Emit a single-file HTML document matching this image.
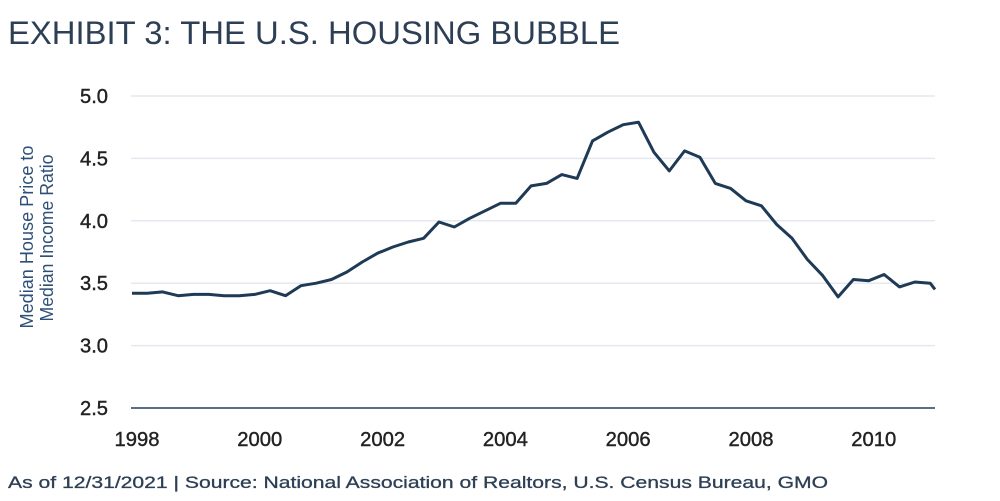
<!DOCTYPE html>
<html><head><meta charset="utf-8"><style>
html,body{margin:0;padding:0;background:#fff;}
svg{display:block;font-family:"Liberation Sans",sans-serif;}
</style></head><body>
<svg id="chart" width="1000" height="501" viewBox="0 0 1000 501" xmlns="http://www.w3.org/2000/svg">
<text x="8" y="44" font-size="32" fill="#2d3f55" textLength="612" lengthAdjust="spacingAndGlyphs">EXHIBIT 3: THE U.S. HOUSING BUBBLE</text>
<g id="grid"></g>
<g id="yticks"></g>
<g id="xticks"></g>
<g fill="#2e5078" font-size="18">
<text x="33" y="237" text-anchor="middle" transform="rotate(-90 33 237)" textLength="183" lengthAdjust="spacingAndGlyphs">Median House Price to</text>
<text x="53" y="238" text-anchor="middle" transform="rotate(-90 53 238)" textLength="167" lengthAdjust="spacingAndGlyphs">Median Income Ratio</text>
</g>
<line x1="131" y1="408" x2="935" y2="408" stroke="#5a6f86" stroke-width="2"/>
<path id="series" fill="none" stroke="#1f3a55" stroke-width="3" stroke-linejoin="round"/>
<text x="8" y="488" font-size="17" fill="#2d3f55" stroke="#2d3f55" stroke-width="0.3" textLength="820" lengthAdjust="spacingAndGlyphs">As of 12/31/2021 | Source: National Association of Realtors, U.S. Census Bureau, GMO</text>
</svg>
<script>
const values = [3.42,3.42,3.43,3.40,3.41,3.41,3.40,3.40,3.41,3.44,3.40,3.48,3.50,3.53,3.59,3.67,3.74,3.79,3.83,3.86,3.99,3.95,4.02,4.08,4.14,4.14,4.28,4.30,4.37,4.34,4.64,4.71,4.77,4.79,4.55,4.40,4.56,4.51,4.30,4.26,4.16,4.12,3.97,3.86,3.69,3.56,3.39,3.53,3.52,3.57,3.47,3.51,3.50,3.45];
const startYear = 1998;
const yTicks = [2.5,3.0,3.5,4.0,4.5,5.0];
const xTickYears = [1998,2000,2002,2004,2006,2008,2010];
const NS="http://www.w3.org/2000/svg";
const x0=132, step=15.35, yTop=96, yBot=408, vMin=2.5, vMax=5.0;
const xOfIndex = i => Math.min(x0 + i*step, 935);
const xOfYear = yr => x0 + (yr-startYear)*4*step;
const yOf = v => yBot - (v-vMin)/(vMax-vMin)*(yBot-yTop);
const grid=document.getElementById('grid'), yt=document.getElementById('yticks'), xt=document.getElementById('xticks');
yTicks.forEach(t=>{
  if(t>vMin){
    const l=document.createElementNS(NS,'line');
    
    
    l.setAttribute('x1',131);l.setAttribute('x2',935);
    l.setAttribute('y1',yOf(t));l.setAttribute('y2',yOf(t));
    l.setAttribute('stroke','#e4e9f0');l.setAttribute('stroke-width','1.5');
    grid.appendChild(l);
  }
  const tx=document.createElementNS(NS,'text');
  
  
  tx.setAttribute('x',108);tx.setAttribute('y',yOf(t)+7);
  tx.setAttribute('text-anchor','end');tx.setAttribute('font-size','20');tx.setAttribute('fill','#222');
  tx.setAttribute('stroke','#222');tx.setAttribute('stroke-width','0.4');
  tx.setAttribute('textLength','28');tx.setAttribute('lengthAdjust','spacingAndGlyphs');
  tx.textContent=t.toFixed(1);
  yt.appendChild(tx);
});
xTickYears.forEach(yr=>{
  const tx=document.createElementNS(NS,'text');
  
  
  tx.setAttribute('x',xOfYear(yr)+5);tx.setAttribute('y',446);
  tx.setAttribute('text-anchor','middle');tx.setAttribute('font-size','20');tx.setAttribute('fill','#222');
  tx.setAttribute('stroke','#222');tx.setAttribute('stroke-width','0.4');
  tx.setAttribute('textLength','45');tx.setAttribute('lengthAdjust','spacingAndGlyphs');
  tx.textContent=yr;
  xt.appendChild(tx);
});
document.getElementById('series').setAttribute('d', values.map((v,i)=>(i?'L':'M')+xOfIndex(i).toFixed(1)+' '+yOf(v).toFixed(1)).join(' '));
</script>
</body></html>
